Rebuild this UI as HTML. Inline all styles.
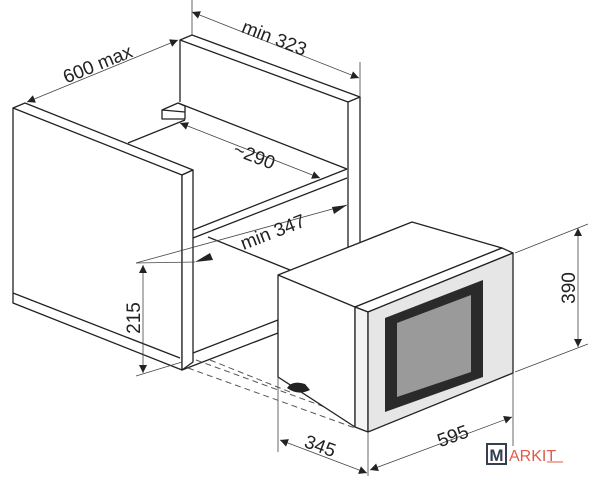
<!DOCTYPE html>
<html><head><meta charset="utf-8"><style>
html,body{margin:0;padding:0;background:#fff;}
svg{display:block;}
text{font-family:"Liberation Sans",Arial,sans-serif;fill:#222;}
</style></head><body>
<svg width="600" height="480" viewBox="0 0 600 480" xmlns="http://www.w3.org/2000/svg">
<defs>
<marker id="a" viewBox="0 0 10 10" refX="10" refY="5" markerWidth="17" markerHeight="8" markerUnits="userSpaceOnUse" orient="auto-start-reverse"><path d="M0,0 L10,5 L0,10 z" fill="#222"/></marker>
</defs>
<g stroke="#222" stroke-width="1.3" fill="none" stroke-linejoin="round">
<!-- back panel -->
<polyline points="180,102 180,40 192,35 360,97 348,102 180,40"/>
<!-- right panel front strip -->
<polyline points="348,102 348,248"/>
<polyline points="360,97 360,245"/>
<!-- shelf -->
<line x1="178" y1="103" x2="347" y2="169"/>
<line x1="193" y1="230" x2="347" y2="169"/>
<line x1="193" y1="238" x2="347" y2="178"/>
<line x1="128" y1="143" x2="185" y2="120"/>
<!-- bracket -->
<polygon points="162,110 178,103 185,106 185,119 162,119" fill="#fff"/>
<line x1="162" y1="110" x2="185" y2="112"/>
<!-- inner line under shelf -->
<line x1="208" y1="237" x2="290" y2="270"/>
<!-- bottom shelf -->
<polygon points="193,353 278,320 278,333 182,370 180,358" fill="#fff"/>
<!-- left panel -->
<polygon points="13,108 25,103 193,170 182,175 182,370 13,303" fill="#fff"/>
<line x1="13" y1="293" x2="180" y2="358"/>
<line x1="13" y1="108" x2="182" y2="175"/>
<polygon points="182,175 193,170 193,362 182,370" fill="#fff"/>
</g>
<!-- dashed lines -->
<g stroke="#555" stroke-width="1" stroke-dasharray="6,4">
<line x1="196" y1="360" x2="355" y2="418"/>
<line x1="188" y1="368" x2="355" y2="428"/>
<line x1="210" y1="360" x2="290" y2="392"/>
</g>
<!-- microwave -->
<g stroke="#222" stroke-width="1.3" stroke-linejoin="round">
<polygon points="278,275 412,222 502,248 355,307 355,427 278,377" fill="#fff"/>
<line x1="278" y1="275" x2="355" y2="307"/>
<polygon points="355,307 502,248 513,253 368,312" fill="#fff"/>
<polygon points="355,307 368,312 368,432 355,427" fill="#f4f4f4"/>
<polygon points="368,312 513,253 513,373 368,432" fill="#e6e6e6"/>
<polygon points="385,318 483,280 483,377 385,412" fill="#2a2a2a" stroke="none"/>
<polygon points="397,323 471,295 471,372 397,397" fill="#9a9a9a" stroke="none"/>
</g>
<path d="M287,388 Q292,380 305,384 L310,390 Q298,396 287,388 z" fill="#222"/>
<!-- dimension lines -->
<g stroke="#444" stroke-width="0.8" fill="none">
<line x1="192" y1="0" x2="192" y2="35"/>
<line x1="360" y1="62" x2="360" y2="97"/>
<line x1="27" y1="102" x2="178" y2="40" marker-start="url(#a)" marker-end="url(#a)"/>
<line x1="192" y1="12" x2="359" y2="78" marker-start="url(#a)" marker-end="url(#a)"/>
<line x1="180" y1="123" x2="320" y2="178" marker-start="url(#a)" marker-end="url(#a)"/>
<line x1="136" y1="263" x2="195" y2="262"/>
<line x1="136" y1="263" x2="347" y2="205"/>
<path d="M195,262 l15,-9 l3,7 z" fill="#222" stroke="none"/>
<path d="M347,205 l-15,2 l2,7 z" fill="#222" stroke="none"/>
<line x1="143" y1="265" x2="143" y2="373" marker-start="url(#a)" marker-end="url(#a)"/>
<line x1="136" y1="376" x2="182" y2="362"/>
<line x1="515" y1="253" x2="588" y2="224"/>
<line x1="515" y1="372" x2="588" y2="344"/>
<line x1="578" y1="228" x2="578" y2="347" marker-start="url(#a)" marker-end="url(#a)"/>
<line x1="278" y1="377" x2="278" y2="452"/>
<line x1="368" y1="432" x2="368" y2="476"/>
<line x1="513" y1="373" x2="513" y2="446"/>
<line x1="280" y1="440" x2="367" y2="473" marker-start="url(#a)" marker-end="url(#a)"/>
<line x1="370" y1="470" x2="512" y2="417" marker-start="url(#a)" marker-end="url(#a)"/>
</g>
<!-- labels -->
<g font-size="19">
<text transform="translate(100,70) rotate(-22)" text-anchor="middle">600 max</text>
<text transform="translate(272,44) rotate(21)" text-anchor="middle">min 323</text>
<text transform="translate(252,162) rotate(21)" text-anchor="middle">~290</text>
<text transform="translate(275,238) rotate(-21)" text-anchor="middle">min 347</text>
<text transform="translate(140,318) rotate(-90)" text-anchor="middle">215</text>
<text transform="translate(575,288) rotate(-90)" text-anchor="middle">390</text>
<text transform="translate(318,452) rotate(20)" text-anchor="middle">345</text>
<text transform="translate(455,442) rotate(-20)" text-anchor="middle">595</text>
</g>
<!-- logo -->
<rect x="487" y="444" width="19" height="20" fill="#fff" stroke="#344050" stroke-width="2"/>
<text x="496.5" y="461" font-size="17" text-anchor="middle" style="fill:#344050;font-weight:bold">M</text>
<text x="509" y="461" font-size="16" style="fill:#e25a4a">ARKIT</text>
<line x1="547" y1="462" x2="563" y2="462" stroke="#e25a4a" stroke-width="1"/>
</svg>
</body></html>
